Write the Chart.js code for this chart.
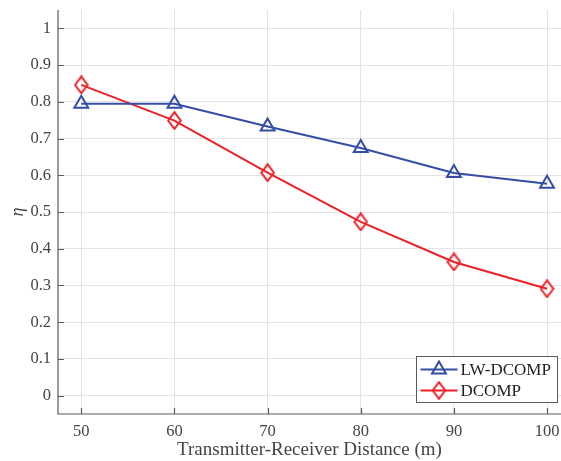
<!DOCTYPE html>
<html>
<head>
<meta charset="utf-8">
<script src="https://cdn.jsdelivr.net/npm/chart.js@4.4.1/dist/chart.umd.min.js"></script>
<style>
html,body{margin:0;padding:0;background:#fff;}
#wrap{width:561px;height:461px;position:relative;}
</style>
</head>
<body>
<div id="wrap"><canvas id="c" width="561" height="461"></canvas></div>
<script>
const distances = [50, 60, 70, 80, 90, 100];
const lwDcomp = [0.795, 0.795, 0.733, 0.674, 0.606, 0.577];
const dcomp = [0.846, 0.749, 0.607, 0.473, 0.364, 0.291];
const xTicks = [50, 60, 70, 80, 90, 100];
const yTicks = [0, 0.1, 0.2, 0.3, 0.4, 0.5, 0.6, 0.7, 0.8, 0.9, 1];
const seriesNames = ['LW-DCOMP', 'DCOMP'];

const BLUE = 'rgb(52,78,165)';
const RED = 'rgb(236,33,39)';
const FONT = '"Liberation Serif", "DejaVu Serif", serif';
const AXIS = 'rgb(90,90,90)';

// hollow tall diamond marker (MATLAB style)
function makeDiamond(color) {
  const c = document.createElement('canvas');
  c.width = 15; c.height = 19;
  const g = c.getContext('2d');
  g.strokeStyle = color; g.lineWidth = 2;
  g.beginPath();
  g.moveTo(7.5, 1.2); g.lineTo(13.8, 9.5); g.lineTo(7.5, 17.8); g.lineTo(1.2, 9.5); g.closePath();
  g.stroke();
  return c;
}
const diamond = makeDiamond(RED);

const inwardTicks = {
  id: 'inwardTicks',
  afterDraw(chart) {
    const ctx = chart.ctx, a = chart.chartArea;
    const xs = chart.scales.x, ys = chart.scales.y;
    ctx.save();
    ctx.strokeStyle = AXIS;
    ctx.lineWidth = 1.2;
    ctx.beginPath();
    ctx.moveTo(a.left, a.top); ctx.lineTo(a.left, a.bottom); ctx.lineTo(a.right, a.bottom);
    ctx.stroke();
    ctx.beginPath();
    xTicks.forEach(v => { const px = Math.round(xs.getPixelForValue(v)) + 0.5; ctx.moveTo(px, a.bottom); ctx.lineTo(px, a.bottom - 6); });
    yTicks.forEach(v => { const py = Math.round(ys.getPixelForValue(v)) + 0.5; ctx.moveTo(a.left, py); ctx.lineTo(a.left + 6, py); });
    ctx.stroke();

    // legend box
    const bx = 416.5, by = 356.5, bw = 141, bh = 46;
    ctx.fillStyle = '#fff';
    ctx.fillRect(bx, by, bw, bh);
    ctx.strokeStyle = AXIS;
    ctx.lineWidth = 1;
    ctx.strokeRect(bx, by, bw, bh);
    const styles = [
      {color: BLUE, pt: 'triangle', r: 8},
      {color: RED, pt: diamond, r: 7}
    ];
    styles.forEach((s, i) => {
      const cy = by + 13 + i * 21;
      ctx.strokeStyle = s.color;
      ctx.lineWidth = 2;
      ctx.beginPath(); ctx.moveTo(bx + 4, cy); ctx.lineTo(bx + 41, cy); ctx.stroke();
      ctx.fillStyle = 'rgba(0,0,0,0)';
      Chart.helpers.drawPoint(ctx, {pointStyle: s.pt, radius: s.r, borderWidth: 2}, bx + 22.5, cy);
      ctx.fillStyle = '#222';
      ctx.font = '17px ' + FONT;
      ctx.textBaseline = 'middle';
      ctx.textAlign = 'left';
      ctx.fillText(seriesNames[i], bx + 44, cy + 1);
    });
    ctx.restore();
  }
};

new Chart(document.getElementById('c'), {
  type: 'line',
  data: {
    datasets: [
      {
        label: seriesNames[0],
        data: distances.map((d, i) => ({x: d, y: lwDcomp[i]})),
        borderColor: BLUE, backgroundColor: 'rgba(0,0,0,0)',
        borderWidth: 2, pointStyle: 'triangle', pointRadius: 8,
        pointBorderWidth: 2, pointBorderColor: BLUE, pointBackgroundColor: 'rgba(0,0,0,0)'
      },
      {
        label: seriesNames[1],
        data: distances.map((d, i) => ({x: d, y: dcomp[i]})),
        borderColor: RED, backgroundColor: 'rgba(0,0,0,0)',
        borderWidth: 2, pointStyle: diamond, pointRadius: 8,
        pointBorderWidth: 2, pointBorderColor: RED, pointBackgroundColor: 'rgba(0,0,0,0)'
      }
    ]
  },
  options: {
    responsive: false,
    animation: false,
    events: [],
    layout: {autoPadding: false, padding: {left: 0, right: 0, top: 10, bottom: 0}},
    plugins: {legend: {display: false}, tooltip: {enabled: false}},
    scales: {
      x: {
        type: 'linear', min: 47.5, max: 101.5,
        afterBuildTicks(s) { s.ticks = xTicks.map(v => ({value: v})); },
        afterFit(s) { s.height = 47; s.paddingLeft = 0; s.paddingRight = 0; },
        grid: {color: 'rgb(228,228,228)', lineWidth: 1, drawTicks: false, drawOnChartArea: true},
        border: {display: false},
        ticks: {color: '#444', font: {family: FONT, size: 16.5}, padding: 8, maxRotation: 0,
                callback: v => String(v)},
        title: {display: true, text: 'Transmitter-Receiver Distance (m)', color: '#444',
                font: {family: FONT, size: 19}, padding: {top: 0, bottom: 0}}
      },
      y: {
        type: 'linear', min: -0.05, max: 1.05,
        afterBuildTicks(s) { s.ticks = yTicks.map(v => ({value: v})); },
        afterFit(s) { s.width = 58; s.paddingTop = 0; s.paddingBottom = 0; },
        grid: {color: 'rgb(228,228,228)', lineWidth: 1, drawTicks: false},
        border: {display: false},
        ticks: {color: '#444', font: {family: FONT, size: 16.5}, padding: 7,
                callback: v => String(Math.round(v * 10) / 10)},
        title: {display: true, text: 'η', color: '#444',
                font: {family: FONT, size: 18, style: 'italic'}, padding: {top: 7, bottom: 2}}
      }
    }
  },
  plugins: [inwardTicks]
});
</script>
</body>
</html>
